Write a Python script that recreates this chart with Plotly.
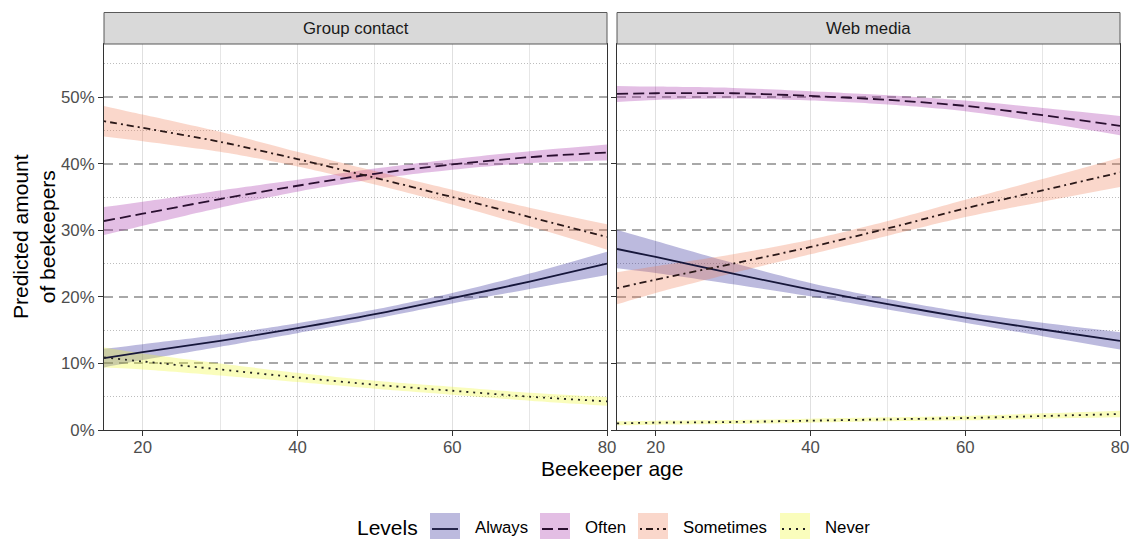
import plotly.graph_objects as go
from plotly.subplots import make_subplots

ages = [15, 20, 30, 40, 50, 60, 70, 80]
levels = ["Always", "Often", "Sometimes", "Never"]
panels = ["Group contact", "Web media"]

# Group contact (percent): fitted value, lower and upper bound
gc_mean = {
    "Always":    [10.8, 11.7, 13.4, 15.3, 17.4, 19.8, 22.3, 25.0],
    "Often":     [31.4, 32.5, 34.7, 36.7, 38.5, 39.9, 41.0, 41.7],
    "Sometimes": [46.4, 45.4, 43.3, 40.7, 37.9, 35.0, 32.0, 29.0],
    "Never":     [10.9, 10.3, 9.1, 7.9, 6.8, 5.9, 5.0, 4.3],
}
gc_low = {
    "Always":    [9.4, 10.5, 12.5, 14.55, 16.7, 19.0, 21.2, 23.3],
    "Often":     [29.3, 30.7, 33.4, 35.8, 37.7, 39.1, 40.1, 40.5],
    "Sometimes": [44.1, 43.4, 41.8, 39.6, 36.9, 33.9, 30.6, 27.1],
    "Never":     [9.4, 9.1, 8.2, 7.2, 6.2, 5.3, 4.4, 3.65],
}
gc_high = {
    "Always":    [12.2, 12.9, 14.3, 16.05, 18.1, 20.6, 23.5, 26.8],
    "Often":     [33.5, 34.3, 36.0, 37.6, 39.3, 40.7, 41.9, 42.9],
    "Sometimes": [48.7, 47.4, 44.8, 41.8, 38.9, 36.1, 33.4, 30.9],
    "Never":     [12.4, 11.5, 10.0, 8.6, 7.4, 6.5, 5.6, 4.95],
}
# Web media (percent)
wm_mean = {
    "Always":    [27.2, 26.0, 23.5, 21.1, 18.9, 16.9, 15.1, 13.4],
    "Often":     [50.5, 50.6, 50.6, 50.2, 49.6, 48.7, 47.3, 45.7],
    "Sometimes": [21.3, 22.6, 25.0, 27.5, 30.3, 33.3, 36.0, 38.7],
    "Never":     [1.0, 1.1, 1.2, 1.4, 1.6, 1.8, 2.1, 2.4],
}
wm_low = {
    "Always":    [24.3, 23.6, 21.9, 20.1, 18.1, 16.1, 14.1, 12.1],
    "Often":     [49.3, 49.6, 49.8, 49.5, 48.9, 47.9, 46.2, 44.3],
    "Sometimes": [18.9, 20.6, 23.6, 26.4, 29.2, 32.0, 34.3, 36.5],
    "Never":     [0.7, 0.8, 0.9, 1.1, 1.3, 1.45, 1.7, 1.9],
}
wm_high = {
    "Always":    [30.1, 28.4, 25.1, 22.1, 19.7, 17.7, 16.1, 14.7],
    "Often":     [51.7, 51.6, 51.4, 50.9, 50.3, 49.5, 48.4, 47.2],
    "Sometimes": [23.7, 24.6, 26.4, 28.6, 31.4, 34.6, 37.7, 40.9],
    "Never":     [1.3, 1.4, 1.5, 1.7, 1.9, 2.15, 2.5, 2.9],
}

y_ticks = [0, 10, 20, 30, 40, 50]
y_ticklabels = ["0%", "10%", "20%", "30%", "40%", "50%"]
y_minor = [5, 15, 25, 35, 45, 55]
x_ticks = [20, 40, 60, 80]
x_minor = [30, 50, 70]

fills = {
    "Always": "rgba(13,8,135,0.28)",
    "Often": "rgba(156,23,158,0.28)",
    "Sometimes": "rgba(237,121,83,0.30)",
    "Never": "rgba(240,249,33,0.30)",
}
line_cols = {
    "Always": "#16163a",
    "Often": "#2a0f30",
    "Sometimes": "#2a1818",
    "Never": "#222222",
}
dashes = {
    "Always": "solid",
    "Often": "11px,5px",
    "Sometimes": "2px,4px,7px,4px",
    "Never": "2px,5px",
}

FONT = "Liberation Sans, Arial, sans-serif"
W, H = 1131, 539
L, R, T, B = 104, 11, 44, 109
pw = W - L - R
ph = H - T - B
gap = 10

fig = make_subplots(rows=1, cols=2, shared_yaxes=True, horizontal_spacing=gap / pw)

data_sets = [(gc_mean, gc_low, gc_high), (wm_mean, wm_low, wm_high)]
for ci, (mean, low, high) in enumerate(data_sets, start=1):
    for lev in levels:
        fig.add_trace(go.Scatter(
            x=ages, y=low[lev], mode="lines",
            line=dict(width=0, shape="spline", smoothing=0.8),
            showlegend=False, hoverinfo="skip"),
            row=1, col=ci)
        fig.add_trace(go.Scatter(
            x=ages, y=high[lev], mode="lines", fill="tonexty", fillcolor=fills[lev],
            line=dict(width=0, shape="spline", smoothing=0.8),
            showlegend=False, hoverinfo="skip"),
            row=1, col=ci)
    for lev in levels:
        fig.add_trace(go.Scatter(
            x=ages, y=mean[lev], mode="lines",
            line=dict(color=line_cols[lev], width=1.8, dash=dashes[lev], shape="spline", smoothing=0.8),
            showlegend=False, name=lev),
            row=1, col=ci)

axis_common = dict(
    showline=True, mirror=True, linecolor="#333333", linewidth=1,
    ticks="outside", ticklen=5, tickcolor="#333333", tickwidth=1,
    tickfont=dict(family=FONT, size=16.8, color="#4d4d4d"),
    zeroline=False, automargin=False,
)
for ci in (1, 2):
    fig.update_xaxes(
        range=[15, 80], tickvals=x_ticks, showgrid=True,
        gridcolor="#e0e0e0", gridwidth=1, ticklabelstandoff=-3,
        minor=dict(tickvals=x_minor, showgrid=True, gridcolor="#e6e6e6", gridwidth=0.9, ticks=""),
        row=1, col=ci, **axis_common)
    fig.update_yaxes(
        range=[0, 58], tickvals=y_ticks, ticktext=y_ticklabels,
        showgrid=True, gridcolor="#a8a8a8", gridwidth=1.6, griddash="9px,6px",
        minor=dict(tickvals=y_minor, showgrid=True, gridcolor="#bdbdbd", gridwidth=0.8,
                   griddash="1px,2px", ticks=""),
        showticklabels=(ci == 1),
        row=1, col=ci, **axis_common)

shapes = []
annotations = []
strip_h = 31.5 / ph
for ci, name in enumerate(panels, start=1):
    xr = "x domain" if ci == 1 else "x2 domain"
    yr = "y domain" if ci == 1 else "y2 domain"
    shapes.append(dict(type="rect", xref=xr, yref=yr, x0=0, x1=1, y0=1, y1=1 + strip_h,
                       fillcolor="#d9d9d9", line=dict(color="#595959", width=1), layer="above"))
    annotations.append(dict(xref=xr, yref=yr, x=0.5, y=1 + strip_h / 2, text=name,
                            showarrow=False, xanchor="center", yanchor="middle",
                            font=dict(family=FONT, size=16.8, color="#1a1a1a")))

font_t = dict(family=FONT, size=21, color="#000000")


def px(xp):
    return (xp - L) / pw


def py(yp):
    return (T + ph - yp) / ph


annotations.append(dict(xref="paper", yref="paper", x=px(611.5), y=py(469),
                        text="Beekeeper age", showarrow=False, xanchor="center", yanchor="middle",
                        font=font_t))
annotations.append(dict(xref="paper", yref="paper", x=px(34), y=py(237),
                        text="Predicted amount<br>of beekeepers", showarrow=False, textangle=-90,
                        xanchor="center", yanchor="middle", font=font_t))

# legend drawn in paper coordinates
leg_y = 527
annotations.append(dict(xref="paper", yref="paper", x=px(355), y=py(leg_y), text="Levels",
                        showarrow=False, xanchor="left", yanchor="middle", font=font_t))
box_x = {"Always": 430, "Often": 540, "Sometimes": 638, "Never": 780}
for lev in levels:
    x0 = box_x[lev]
    shapes.append(dict(type="rect", xref="paper", yref="paper", x0=px(x0), x1=px(x0 + 30),
                       y0=py(545), y1=py(513), fillcolor=fills[lev], line=dict(width=0)))
    shapes.append(dict(type="line", xref="paper", yref="paper", x0=px(x0 + 2), x1=px(x0 + 28),
                       y0=py(529), y1=py(529),
                       line=dict(color=line_cols[lev], width=1.8, dash=dashes[lev])))
    annotations.append(dict(xref="paper", yref="paper", x=px(x0 + 43), y=py(leg_y), text=lev,
                            showarrow=False, xanchor="left", yanchor="middle",
                            font=dict(family=FONT, size=16.8, color="#000000")))

fig.update_layout(
    width=W, height=H, margin=dict(l=L, r=R, t=T, b=B),
    plot_bgcolor="white", paper_bgcolor="white",
    shapes=shapes, annotations=annotations, showlegend=False,
)
fig.write_html(
    "out.html",
    config={"displayModeBar": False},
    post_script="document.body.style.margin='0';document.body.style.padding='0';"
                "document.body.style.overflow='hidden';",
)
